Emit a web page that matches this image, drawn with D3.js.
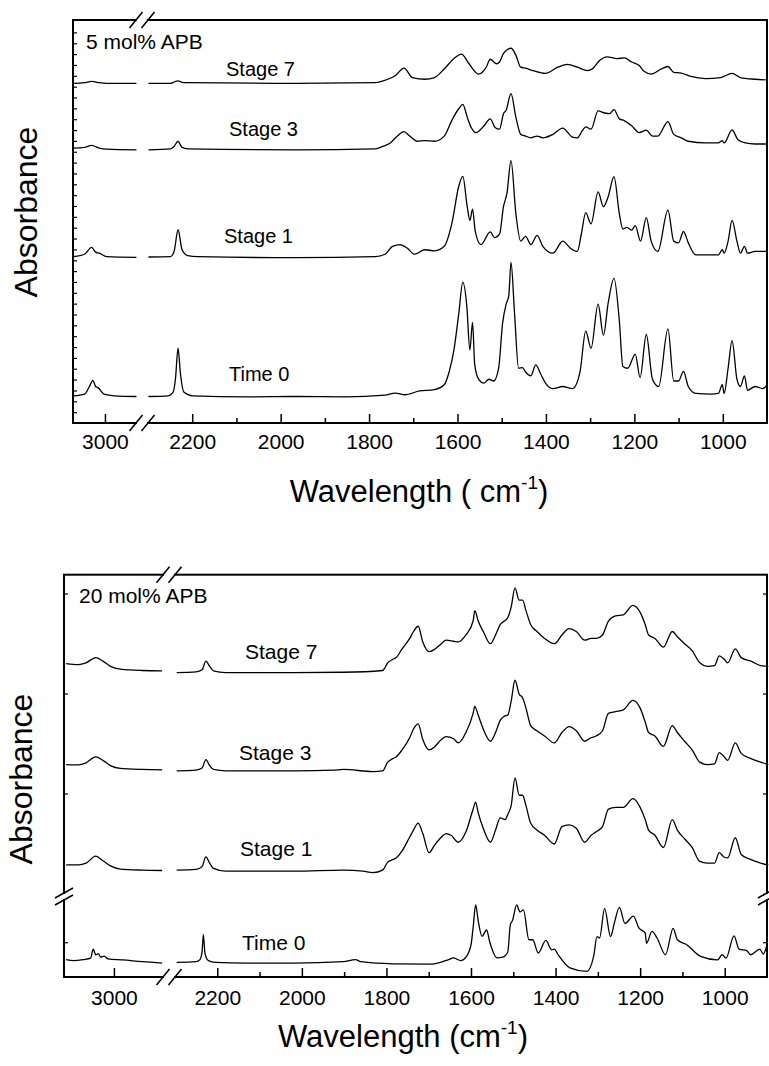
<!DOCTYPE html>
<html>
<head>
<meta charset="utf-8">
<script src="https://cdn.jsdelivr.net/npm/d3@7/dist/d3.min.js"></script>
<style>
  body { margin: 0; background: #fff; }
  text { font-family: "Liberation Sans", Arial, Helvetica, sans-serif; fill: #000; }
</style>
</head>
<body>
<div id="chart"></div>
<script>
/*
*    FTIR spectra, two stacked panels with broken wavenumber axis
*/

// ---- tick labels / categories ----
var majorTicks = [2200, 2000, 1800, 1600, 1400, 1200, 1000];
var minorTicks = [2100, 1900, 1700, 1500, 1300, 1100];
var leftTicks = [3000];
var stageNames = ["Time 0", "Stage 1", "Stage 3", "Stage 7"];
var panelTitles = ["5 mol% APB", "20 mol% APB"];

// ---- 5 mol% APB spectra : [wavenumber, absorbance (a.u., stacked)] ----
var apb5_time0 = [[3071,0.79],[3046,0.84],[3035,1.06],[3027,1.24],[3021,1.06],[3015,1.02],[3002,0.84],[2979,0.79],[2929,0.77],
  [2299,0.77],[2254,0.79],[2243,0.90],[2238,1.27],[2232,2.17],[2227,1.48],[2219,0.90],[2199,0.79],[2076,0.76],[1964,0.77],
  [1853,0.76],[1764,0.81],[1741,0.87],[1719,0.82],[1686,0.93],[1652,0.97],[1630,1.11],[1619,1.48],[1608,2.12],[1597,3.19],
  [1588,4.09],[1579,3.40],[1572,2.12],[1566,2.92],[1561,1.69],[1552,1.27],[1540,1.16],[1529,1.27],[1518,1.22],[1507,1.59],
  [1498,2.90],[1490,3.45],[1484,3.70],[1479,4.66],[1471,3.19],[1462,1.59],[1453,1.61],[1446,1.48],[1434,1.37],[1423,1.69],[1412,1.43],
  [1401,1.16],[1384,1.00],[1362,1.06],[1340,1.00],[1323,1.48],[1310,2.67],[1298,2.17],[1282,3.45],[1270,2.55],[1259,3.50],
  [1246,4.20],[1234,2.97],[1226,1.64],[1215,1.59],[1198,1.99],[1187,1.32],[1173,2.57],[1159,1.27],[1145,1.06],[1124,2.73],
  [1111,1.22],[1100,1.22],[1089,1.50],[1078,1.06],[1061,0.86],[1027,0.84],[1010,0.86],[1001,1.11],[997,0.86],[988,1.59],
  [979,2.39],[968,1.27],[960,1.06],[951,1.37],[944,0.95],[927,1.06],[910,1.00],[899,1.11]];

var apb5_stage1 = [[3071,4.83],[3046,4.90],[3030,5.10],[3021,4.96],[3013,4.93],[2996,4.83],[2929,4.81],
  [2299,4.82],[2249,4.83],[2241,4.98],[2232,5.61],[2223,5.03],[2210,4.86],[2188,4.83],[1964,4.80],[1786,4.83],[1764,4.90],
  [1747,5.13],[1730,5.18],[1714,5.08],[1697,4.90],[1674,5.03],[1652,5.00],[1630,5.13],[1613,5.78],[1597,6.88],[1588,7.16],
  [1578,6.28],[1572,5.88],[1566,6.21],[1560,5.58],[1547,5.18],[1526,5.55],[1516,5.38],[1505,5.48],[1496,6.28],[1488,6.68],
  [1479,7.62],[1468,6.08],[1457,5.28],[1446,5.42],[1434,5.18],[1420,5.45],[1407,5.13],[1384,4.93],[1362,5.28],[1345,5.08],
  [1329,4.98],[1320,5.48],[1310,6.11],[1298,5.78],[1282,6.71],[1270,6.28],[1259,6.58],[1246,7.15],[1234,6.08],[1226,5.63],
  [1217,5.68],[1206,5.60],[1198,5.73],[1186,5.28],[1173,5.96],[1162,5.28],[1147,4.98],[1124,6.18],[1111,5.28],[1100,5.23],
  [1089,5.56],[1078,5.23],[1061,4.88],[1027,4.88],[1010,4.88],[1001,5.03],[997,4.93],[988,5.28],[979,5.88],[968,5.28],
  [960,4.93],[951,5.13],[944,4.93],[927,4.98],[899,4.98]];

var apb5_stage3 = [[3071,7.98],[3046,8.00],[3030,8.06],[3013,7.98],[2996,7.95],[2929,7.93],
  [2299,7.93],[2249,7.96],[2241,8.03],[2232,8.18],[2223,8.00],[2210,7.96],[1964,7.93],[1786,7.96],[1769,8.03],[1752,8.13],
  [1736,8.33],[1721,8.46],[1708,8.33],[1691,8.18],[1674,8.20],[1652,8.18],[1630,8.33],[1613,8.78],[1597,9.13],[1588,9.25],
  [1578,8.88],[1569,8.58],[1558,8.43],[1540,8.63],[1526,8.83],[1515,8.58],[1505,8.53],[1496,8.98],[1490,9.08],[1479,9.56],
  [1468,8.88],[1457,8.38],[1446,8.33],[1434,8.28],[1420,8.33],[1407,8.28],[1384,8.38],[1362,8.56],[1340,8.30],[1329,8.28],
  [1318,8.48],[1310,8.60],[1298,8.53],[1282,9.06],[1267,9.00],[1256,8.98],[1246,9.10],[1234,8.83],[1223,8.78],[1206,8.63],
  [1189,8.43],[1173,8.50],[1159,8.33],[1147,8.33],[1124,8.75],[1111,8.38],[1094,8.28],[1078,8.18],[1039,8.13],[1010,8.13],
  [1001,8.20],[997,8.13],[979,8.51],[966,8.23],[949,8.13],[927,8.10],[899,8.10]];

var apb5_stage7 = [[3071,9.86],[3046,9.88],[3030,9.92],[3013,9.88],[2996,9.86],[2929,9.86],
  [2299,9.86],[2249,9.86],[2241,9.90],[2232,9.93],[2223,9.89],[2215,9.88],[1964,9.86],[1786,9.88],[1769,9.93],[1741,10.08],
  [1721,10.30],[1702,10.03],[1674,9.98],[1652,10.03],[1630,10.28],[1608,10.58],[1591,10.71],[1574,10.43],[1552,10.13],
  [1535,10.33],[1526,10.56],[1512,10.43],[1505,10.48],[1496,10.73],[1479,10.88],[1468,10.68],[1457,10.33],[1446,10.30],
  [1429,10.23],[1401,10.15],[1373,10.33],[1351,10.41],[1329,10.33],[1306,10.23],[1295,10.28],[1278,10.53],[1262,10.63],
  [1239,10.58],[1223,10.60],[1206,10.48],[1189,10.38],[1178,10.21],[1162,10.13],[1139,10.28],[1124,10.35],[1111,10.18],
  [1094,10.16],[1072,10.06],[1039,10.00],[1005,10.03],[979,10.15],[960,10.03],[927,9.98],[899,9.96]];

// ---- 20 mol% APB spectra (Time 0 on the lower, broken part of the axis) ----
var apb20_time0 = [[3113,0.50],[3095,0.47],[3072,0.50],[3055,0.54],[3049,0.80],[3043,0.64],[3037,0.67],[3031,0.57],[3023,0.60],
  [3014,0.52],[2979,0.49],[2933,0.44],[2886,0.40],
  [2296,0.42],[2250,0.44],[2241,0.50],[2236,0.72],[2233,1.22],[2229,0.67],[2221,0.47],[2204,0.42],[2134,0.40],[2018,0.40],
  [1902,0.44],[1873,0.50],[1861,0.44],[1785,0.38],[1693,0.37],[1653,0.50],[1642,0.55],[1624,0.47],[1612,0.57],[1600,0.92],
  [1595,1.42],[1589,2.07],[1583,1.62],[1574,1.17],[1563,1.35],[1556,1.02],[1538,0.55],[1525,0.57],[1513,0.72],[1507,1.50],
  [1502,1.62],[1492,2.07],[1484,1.87],[1476,1.93],[1463,1.07],[1454,1.07],[1441,0.69],[1423,1.05],[1409,0.78],[1403,0.80],
  [1394,0.64],[1366,0.26],[1326,0.16],[1310,0.59],[1302,1.16],[1296,1.12],[1284,1.97],[1270,1.16],[1261,1.55],[1249,2.00],
  [1236,1.54],[1216,1.75],[1203,1.41],[1188,1.26],[1185,0.97],[1172,1.31],[1160,1.12],[1140,0.64],[1122,1.40],[1112,1.07],
  [1089,0.92],[1057,0.59],[1017,0.49],[1006,0.64],[997,0.54],[978,1.18],[966,0.80],[948,0.76],[939,0.64],[917,0.80],
  [909,0.66],[900,0.92]];

var apb20_stage1 = [[3113,0.95],[3084,0.95],[3066,1.00],[3043,1.20],[3026,1.07],[3008,0.92],[2985,0.83],[2933,0.80],[2886,0.79],
  [2296,0.80],[2250,0.82],[2236,0.90],[2227,1.18],[2218,1.00],[2209,0.85],[2180,0.77],[2018,0.77],[1902,0.80],[1855,0.77],
  [1832,0.73],[1809,0.80],[1797,1.03],[1785,1.10],[1777,1.15],[1763,1.35],[1745,1.75],[1736,1.95],[1725,2.15],[1714,1.85],
  [1699,1.30],[1687,1.50],[1670,1.75],[1659,1.85],[1647,1.80],[1630,1.60],[1612,1.90],[1595,2.55],[1589,2.75],[1583,2.45],
  [1571,2.00],[1554,1.60],[1542,1.95],[1531,2.30],[1519,2.25],[1513,2.40],[1505,2.65],[1496,3.45],[1486,2.95],[1478,2.95],
  [1470,2.65],[1459,2.15],[1444,1.95],[1426,1.80],[1403,1.55],[1385,2.05],[1368,2.10],[1351,2.00],[1331,1.60],[1316,1.80],
  [1304,1.90],[1289,2.05],[1275,2.55],[1258,2.60],[1240,2.60],[1217,2.85],[1200,2.60],[1188,2.25],[1180,1.95],[1165,1.80],
  [1145,1.45],[1124,2.25],[1112,1.95],[1095,1.70],[1077,1.45],[1059,1.05],[1041,1.00],[1024,1.00],[1013,1.30],[1001,1.17],
  [993,1.15],[975,1.73],[961,1.25],[938,1.10],[915,1.00],[897,0.95]];

var apb20_stage3 = [[3113,3.83],[3084,3.82],[3066,3.88],[3043,4.05],[3026,3.95],[3008,3.80],[2985,3.72],[2933,3.69],[2886,3.68],
  [2296,3.65],[2250,3.67],[2236,3.73],[2227,3.97],[2218,3.80],[2209,3.69],[2180,3.65],[2018,3.65],[1925,3.67],[1902,3.69],
  [1832,3.63],[1809,3.65],[1797,3.90],[1785,4.00],[1777,4.05],[1763,4.25],[1745,4.60],[1736,4.85],[1725,5.00],[1714,4.55],
  [1699,4.25],[1687,4.33],[1670,4.55],[1659,4.63],[1641,4.57],[1630,4.45],[1612,4.75],[1595,5.30],[1591,5.50],[1583,5.25],
  [1571,4.85],[1554,4.50],[1542,4.75],[1531,5.10],[1521,5.22],[1513,5.25],[1505,5.65],[1496,6.25],[1486,5.85],[1478,5.75],
  [1470,5.45],[1459,4.95],[1444,4.80],[1426,4.65],[1403,4.45],[1385,4.75],[1368,4.92],[1351,4.80],[1331,4.50],[1316,4.60],
  [1304,4.65],[1289,4.80],[1275,5.30],[1258,5.35],[1240,5.40],[1217,5.67],[1200,5.45],[1188,5.05],[1180,4.75],[1165,4.65],
  [1145,4.35],[1124,4.95],[1112,4.75],[1095,4.50],[1077,4.25],[1059,3.90],[1041,3.83],[1024,3.85],[1013,4.17],[1001,4.05],
  [993,3.95],[975,4.45],[961,4.15],[938,4.00],[915,3.90],[897,3.83]];

var apb20_stage7 = [[3113,6.73],[3084,6.70],[3066,6.75],[3043,6.90],[3026,6.80],[3008,6.65],[2985,6.57],[2933,6.53],[2886,6.52],
  [2296,6.47],[2250,6.49],[2236,6.55],[2227,6.80],[2218,6.65],[2209,6.52],[2180,6.47],[2018,6.47],[1902,6.48],[1809,6.53],
  [1797,6.75],[1785,6.85],[1777,6.90],[1763,7.15],[1745,7.45],[1736,7.65],[1725,7.80],[1714,7.35],[1699,7.07],[1687,7.13],
  [1670,7.30],[1659,7.40],[1641,7.37],[1630,7.35],[1612,7.55],[1595,7.95],[1591,8.25],[1583,7.95],[1571,7.65],[1554,7.30],
  [1542,7.55],[1531,7.85],[1521,7.95],[1513,8.05],[1505,8.35],[1496,8.90],[1486,8.55],[1478,8.55],[1470,8.25],[1459,7.85],
  [1444,7.65],[1426,7.45],[1403,7.30],[1385,7.55],[1368,7.73],[1351,7.65],[1331,7.40],[1316,7.45],[1304,7.45],[1289,7.55],
  [1275,7.95],[1258,8.10],[1240,8.13],[1217,8.40],[1200,8.20],[1188,7.85],[1180,7.55],[1165,7.45],[1145,7.20],[1124,7.65],
  [1112,7.50],[1095,7.30],[1077,7.10],[1059,6.75],[1041,6.65],[1024,6.67],[1013,6.95],[1001,6.85],[993,6.75],[975,7.15],
  [961,6.90],[938,6.80],[915,6.67],[897,6.65]];

var W = 769, H = 1066;
var svg = d3.select("#chart").append("svg").attr("width", W).attr("height", H);

var line = function(xs, ys) {
    return d3.line()
        .x(function(d){ return xs(d[0]); })
        .y(function(d){ return ys(d[1]); })
        .curve(d3.curveMonotoneX);
};

function drawPanel(p) {
    var g = svg.append("g");

    var xl = d3.scaleLinear().domain(p.leftDomain).range([p.x0, p.bl]);
    var xr = d3.scaleLinear().domain([2300, 900]).range([p.br, p.x1]);

    // spectra, split at the axis break
    p.series.forEach(function(s){
        var left = s.data.filter(function(d){ return d[0] > 2600; });
        var right = s.data.filter(function(d){ return d[0] <= 2300; });
        g.append("path").datum(left).attr("d", line(xl, s.y)).attr("fill", "none")
            .attr("stroke", "#000").attr("stroke-width", 1.3);
        g.append("path").datum(right).attr("d", line(xr, s.y)).attr("fill", "none")
            .attr("stroke", "#000").attr("stroke-width", 1.3);
        g.append("text").attr("x", s.lx).attr("y", s.ly).attr("font-size", p.labelSize).text(s.name);
    });

    // frame
    g.append("rect").attr("x", p.x0).attr("y", p.y0).attr("width", p.x1 - p.x0).attr("height", p.y1 - p.y0)
        .attr("fill", "none").attr("stroke", "#000").attr("stroke-width", 2);

    // x axes (ticks inside)
    function xAxis(scale, major, minor) {
        var ax = g.append("g").attr("transform", "translate(0," + p.y1 + ")")
            .call(d3.axisBottom(scale).tickValues(major).tickSizeInner(-9).tickSizeOuter(0)
                .tickPadding(p.tickPad).tickFormat(d3.format("d")));
        ax.attr("font-size", 21).attr("font-family", null);
        ax.select(".domain").remove();
        ax.selectAll("line").attr("stroke-width", 1.5);
        if (minor.length) {
            var mx = g.append("g").attr("transform", "translate(0," + p.y1 + ")")
                .call(d3.axisBottom(scale).tickValues(minor).tickSizeInner(-5).tickSizeOuter(0).tickFormat(""));
            mx.select(".domain").remove();
            mx.selectAll("line").attr("stroke-width", 1.5);
        }
    }
    xAxis(xl, leftTicks, []);
    xAxis(xr, majorTicks, minorTicks);

    // y ticks (inside, both sides where present)
    p.yTicks.forEach(function(t){
        var la = g.append("g").attr("transform", "translate(" + p.x0 + ",0)")
            .call(d3.axisRight(t.scale).tickValues(t.values).tickSize(4).tickFormat(""));
        la.select(".domain").remove();
        la.selectAll("line").attr("stroke-width", 1.2);
        if (p.rightTicks) {
            var ra = g.append("g").attr("transform", "translate(" + p.x1 + ",0)")
                .call(d3.axisLeft(t.scale).tickValues(t.values).tickSize(4).tickFormat(""));
            ra.select(".domain").remove();
            ra.selectAll("line").attr("stroke-width", 1.2);
        }
    });

    // x-axis break marks on top and bottom edges
    [p.y0, p.y1].forEach(function(yy){
        g.append("rect").attr("x", p.bl + 1).attr("y", yy - 3).attr("width", p.br - p.bl - 2).attr("height", 6).attr("fill", "#fff");
        [p.bl, p.br].forEach(function(cx){
            g.append("line").attr("x1", cx - 6.5).attr("y1", yy + 8).attr("x2", cx + 6.5).attr("y2", yy - 8)
                .attr("stroke", "#000").attr("stroke-width", 1.6);
        });
    });

    // y-axis break marks
    if (p.yBreak) {
        [p.x0, p.x1].forEach(function(xx){
            g.append("rect").attr("x", xx - 3).attr("y", p.yBreak[0] + 1).attr("width", 6)
                .attr("height", p.yBreak[1] - p.yBreak[0] - 2).attr("fill", "#fff");
            p.yBreak.forEach(function(yy){
                g.append("line").attr("x1", xx - 9).attr("y1", yy + 5).attr("x2", xx + 9).attr("y2", yy - 5)
                    .attr("stroke", "#000").attr("stroke-width", 1.6);
            });
        });
    }

    // panel title
    g.append("text").attr("x", p.titleX).attr("y", p.titleY).attr("font-size", 21).text(p.title);

    // axis titles
    g.append("text").attr("transform", "translate(" + p.yLabelX + "," + p.yLabelY + ") rotate(-90)")
        .attr("text-anchor", "middle").attr("font-size", 32).text("Absorbance");

    var xt = g.append("text").attr("x", p.xLabelX).attr("y", p.xLabelY).attr("text-anchor", "middle").attr("font-size", 31);
    xt.append("tspan").text(p.xLabelText);
    xt.append("tspan").attr("font-size", 19).attr("dy", -13).text("-1");
    xt.append("tspan").attr("dy", 13).text(")");
}

// ---- top panel : 5 mol% APB ----
var yTop = d3.scaleLinear().domain([0, 11.7]).range([423, 20]);
drawPanel({
    x0: 73, x1: 767, y0: 20, y1: 423, bl: 136, br: 148,
    leftDomain: [3072, 2930],
    tickPad: 11, labelSize: 20,
    title: panelTitles[0], titleX: 86, titleY: 49,
    yLabelX: 37, yLabelY: 212, xLabelX: 419, xLabelY: 502, xLabelText: "Wavelength ( cm",
    rightTicks: false,
    yTicks: [{ scale: yTop, values: d3.range(1, 37).map(function(k){ return k * 0.315; }) }],
    series: [
        { name: stageNames[0], data: apb5_time0,  y: yTop, lx: 229, ly: 381 },
        { name: stageNames[1], data: apb5_stage1, y: yTop, lx: 224, ly: 243 },
        { name: stageNames[2], data: apb5_stage3, y: yTop, lx: 229, ly: 136 },
        { name: stageNames[3], data: apb5_stage7, y: yTop, lx: 226, ly: 76 }
    ]
});

// ---- bottom panel : 20 mol% APB (broken y axis) ----
var yUpper = d3.scaleLinear().domain([0, 9.28]).range([898, 574.7]);
var yLower = d3.scaleLinear().domain([0, 2.27]).range([977, 898]);
drawPanel({
    x0: 64, x1: 767, y0: 574.7, y1: 977, bl: 163, br: 175,
    leftDomain: [3118, 2884],
    tickPad: 13, labelSize: 21,
    title: panelTitles[1], titleX: 79, titleY: 603,
    yLabelX: 32, yLabelY: 779, xLabelX: 403, xLabelY: 1047, xLabelText: "Wavelength (cm",
    rightTicks: true,
    yBreak: [893, 900],
    yTicks: [{ scale: yUpper, values: [3.0, 5.87, 8.74] }, { scale: yLower, values: [1.0] }],
    series: [
        { name: stageNames[0], data: apb20_time0,  y: yLower, lx: 242, ly: 950 },
        { name: stageNames[1], data: apb20_stage1, y: yUpper, lx: 240, ly: 856 },
        { name: stageNames[2], data: apb20_stage3, y: yUpper, lx: 239, ly: 760 },
        { name: stageNames[3], data: apb20_stage7, y: yUpper, lx: 245, ly: 659 }
    ]
});
</script>
</body>
</html>
